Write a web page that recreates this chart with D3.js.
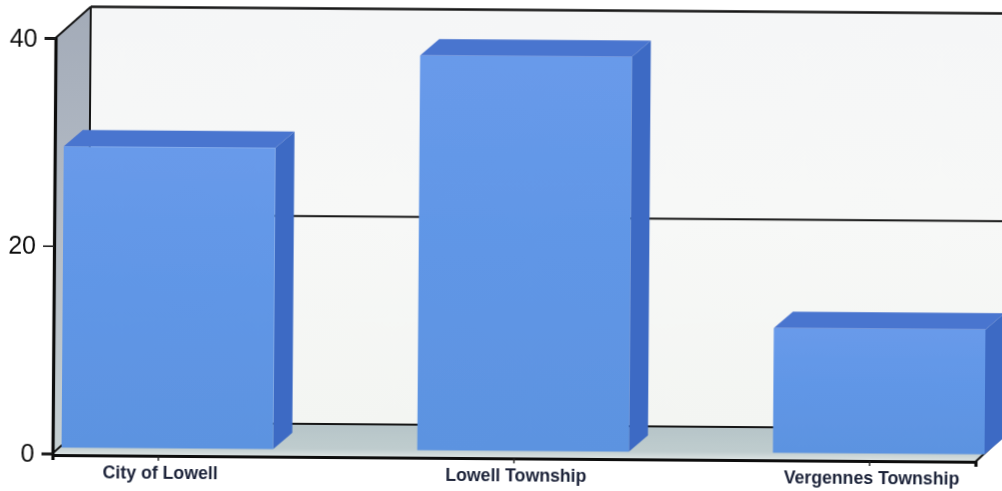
<!DOCTYPE html>
<html>
<head>
<meta charset="utf-8">
<script src="https://cdn.jsdelivr.net/npm/d3@7"></script>
<style>
  html, body { margin: 0; padding: 0; background: #fff; overflow: hidden; }
  text { font-family: "Liberation Sans", Arial, sans-serif; }
</style>
</head>
<body>
<div id="chart"></div>
<script>
const categories = ["City of Lowell", "Lowell Township", "Vergennes Township"];
const values = [29, 38, 12];
const yTicks = [0, 20, 40];

const width = 1002, height = 491;
// depth of the fake 3d box, bars sit a little way into it
const depth = { dx: 35, dy: -31.5 };
const barFront = { dx: 9, dy: -6 };
const barBack = { dx: 28, dy: -22.5 };

const x = d3.scaleBand().domain(categories).range([55, 978]).paddingInner(0.405);
const y = d3.scaleLinear().domain([0, 40]).range([453.5, 38]);

const svg = d3.select("#chart").append("svg")
  .attr("width", width)
  .attr("height", height)
  .style("display", "block");

const defs = svg.append("defs");
function gradient(id, x2, y2, stops) {
  const g = defs.append("linearGradient").attr("id", id)
    .attr("x1", 0).attr("y1", 0).attr("x2", x2).attr("y2", y2);
  stops.forEach((s, i) => g.append("stop")
    .attr("offset", i / (stops.length - 1)).attr("stop-color", s));
}
gradient("wallLeft", 0, 1, ["#a3abb8", "#b4bcc6", "#c6d0d2"]);
gradient("wallBack", 0, 1, ["#f5f6f7", "#f7f8f7", "#f3f5f2"]);
gradient("floor", 0, 1, ["#b6c4c8", "#b9c7ca", "#bccacc", "#bfccce", "#dde4e4"]);
gradient("barFront", 0, 1, ["#689aea", "#6096e6", "#5c93e0"]);
defs.append("filter").attr("id", "scan")
  .append("feGaussianBlur").attr("stdDeviation", 0.45);

// the page was scanned slightly crooked
const root = svg.append("g")
  .attr("filter", "url(#scan)")
  .attr("transform", "translate(-2.5,0) rotate(0.42 55 455)");

const x0 = x.range()[0], x1 = x.range()[1];
const poly = (pts) => pts.map((p) => p.join(",")).join(" ");

// back wall, floor, left wall
root.append("polygon")
  .attr("points", poly([
    [x0 + depth.dx, y(40) + depth.dy], [x1 + depth.dx, y(40) + depth.dy],
    [x1 + depth.dx, y(0) + depth.dy], [x0 + depth.dx, y(0) + depth.dy],
  ]))
  .attr("fill", "url(#wallBack)");
root.append("polygon")
  .attr("points", poly([
    [x0, y(0) + 1.5], [x1, y(0) + 1.5],
    [x1 + depth.dx, y(0) + depth.dy], [x0 + depth.dx, y(0) + depth.dy],
  ]))
  .attr("fill", "url(#floor)");
root.append("polygon")
  .attr("points", poly([
    [x0, y(40)], [x0 + depth.dx, y(40) + depth.dy],
    [x0 + depth.dx, y(0) + depth.dy], [x0, y(0)],
  ]))
  .attr("fill", "url(#wallLeft)");

// gridlines on the back wall, the 0 and 40 ones are the box edges
root.selectAll(".grid").data(yTicks).enter().append("line")
  .attr("class", "grid")
  .attr("x1", x0 + depth.dx)
  .attr("x2", x1 + depth.dx)
  .attr("y1", (d) => y(d) + depth.dy)
  .attr("y2", (d) => y(d) + depth.dy)
  .attr("stroke", "#151515")
  .attr("stroke-width", (d) => (d === 40 ? 2.6 : 1.8));

const edges = [
  [[x0, y(40)], [x0 + depth.dx, y(40) + depth.dy]],
  [[x0 + depth.dx, y(40) + depth.dy], [x0 + depth.dx, y(0) + depth.dy]],
  [[x0, y(0)], [x0 + depth.dx, y(0) + depth.dy]],
  [[x1, y(0) + 1.5], [x1 + depth.dx, y(0) + depth.dy]],
];
root.selectAll(".edge").data(edges).enter().append("line")
  .attr("class", "edge")
  .attr("x1", (d) => d[0][0]).attr("y1", (d) => d[0][1])
  .attr("x2", (d) => d[1][0]).attr("y2", (d) => d[1][1])
  .attr("stroke", "#151515")
  .attr("stroke-width", 2);

// bars: front, top and side faces
const bars = root.selectAll(".bar")
  .data(categories.map((c, i) => ({ name: c, value: values[i] })))
  .enter().append("g").attr("class", "bar");

bars.append("polygon")
  .attr("fill", "#4a74cf")
  .attr("points", (d) => {
    const l = x(d.name), r = l + x.bandwidth(), t = y(d.value);
    return poly([
      [l + barFront.dx, t + barFront.dy], [r + barFront.dx, t + barFront.dy],
      [r + barBack.dx, t + barBack.dy], [l + barBack.dx, t + barBack.dy],
    ]);
  });
bars.append("polygon")
  .attr("fill", "#3d6bc4")
  .attr("points", (d) => {
    const r = x(d.name) + x.bandwidth(), t = y(d.value);
    return poly([
      [r + barFront.dx, t + barFront.dy], [r + barBack.dx, t + barBack.dy],
      [r + barBack.dx, y(0) + barBack.dy], [r + barFront.dx, y(0) + barFront.dy],
    ]);
  });
bars.append("rect")
  .attr("fill", "url(#barFront)")
  .attr("x", (d) => x(d.name) + barFront.dx)
  .attr("y", (d) => y(d.value) + barFront.dy)
  .attr("width", x.bandwidth())
  .attr("height", (d) => y(0) - y(d.value));

// axes
const yAxis = root.append("g")
  .attr("transform", `translate(${x0},0)`)
  .call(d3.axisLeft(y).tickValues(yTicks).tickSize(11).tickPadding(7).tickFormat(d3.format("d")));
yAxis.select(".domain").attr("stroke", "#111").attr("stroke-width", 3.2);
yAxis.selectAll(".tick line").attr("stroke", "#222").attr("stroke-width", 1.6);
yAxis.selectAll("text")
  .attr("fill", "#111")
  .style("font-size", "25px");

const xAxis = root.append("g")
  .attr("transform", `translate(0,${y(0) + 1.5})`)
  .call(d3.axisBottom(x).tickSize(5).tickPadding(5));
xAxis.select(".domain").attr("stroke", "#111").attr("stroke-width", 3.2);
xAxis.selectAll(".tick line").attr("stroke", "#222").attr("stroke-width", 1.4);
xAxis.selectAll("text")
  .attr("fill", "#1a2138")
  .attr("dx", 2)
  .style("font-size", "17.7px")
  .style("font-weight", "bold");
</script>
</body>
</html>
